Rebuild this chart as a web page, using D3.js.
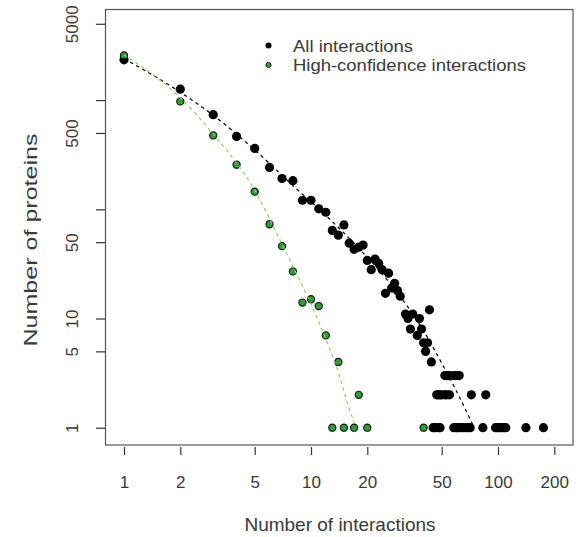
<!DOCTYPE html>
<html><head><meta charset="utf-8">
<script src="https://cdn.jsdelivr.net/npm/d3@7"></script>
<style>body{margin:0;background:#fff}text{font-family:"Liberation Sans",Arial,sans-serif}</style>
</head><body>
<svg id="c" width="585" height="537"></svg>
<script>
// ---- data ----
const xTicks = [1, 2, 5, 10, 20, 50, 100, 200];
const yTicks = [1, 5, 10, 50, 100, 500, 1000, 5000];
const yTickLabels = ["1", "5", "10", "50", "", "500", "", "5000"];

const seriesNames = ["All interactions", "High-confidence interactions"];

const allDeg = [1,2,3,4,5,6,7,8,9,10,11,12,13,14,15,16,17,18,19,20,21,22,23,24,25,26,27,28,29,30,
  32,33,34,35,37,38,39,40,41,42,43,44,
  52,53,54,55,58,59,60,62,
  47,48,49,50,52,53,55,72,86,
  45,46,48,49,58,60,61,63,65,67,69,71,83,97,99,101,104,107,110,141,175];
const allCnt = [2340,1260,735,465,361,242,191,183,121,121,101,94,64,58,72,49,43,45,47,34,28,35,32,28,17,26,19,21,18,16,
  11,10,8,11,7,10,8,6,5,6,12,4,
  3,3,3,3,3,3,3,3,
  2,2,2,2,2,2,2,2,2,
  1,1,1,1,1,1,1,1,1,1,1,1,1,1,1,1,1,1,1,1,1];

const hcDeg = [1,2,3,4,5,6,7,8,9,10,11,12,14,18,13,15,17,20,40];
const hcCnt = [2560,973,475,256,145,73,46,27,14,15,13,7,4,2,1,1,1,1,1];

// fitted trend lines
const allFitX = [1,2,3,5,8,12,18,25,32,40,50,60,73];
const allFitY = [2400,1180,726,350,165,88,44,23.6,13.7,7.7,3.9,2.16,1.08];
const hcFitX = [1,2,3,4,5,6,7,8,10,12,14,16,17.1];
const hcFitY = [2600,1050,490,265,150,82,48,30,13.5,6.5,3.2,1.5,1.1];

// ---- drawing ----
const svg = d3.select("#c");
const x = d3.scaleLog().domain([1, 100]).range([124, 498]);
const y = d3.scaleLog().domain([1, 1000]).range([427.7, 100.1]);
const box = {l: 105.5, t: 9.5, r: 573, b: 445};
const textCol = "#3a3a3a";

svg.append("rect").attr("x", box.l).attr("y", box.t)
  .attr("width", box.r - box.l).attr("height", box.b - box.t)
  .attr("fill", "none").attr("stroke", "#555").attr("stroke-width", 1.2);

// x axis
const gx = svg.append("g").attr("transform", "translate(0,447)")
  .call(d3.axisBottom(x).tickValues(xTicks).tickFormat(d3.format("d")).tickSize(8).tickPadding(21));
gx.select(".domain").remove();
gx.selectAll("line").attr("stroke", "#333").attr("stroke-width", 1.2);
gx.selectAll("text").attr("fill", textCol).style("font-size", "17px");

// y axis
const gy = svg.append("g").attr("transform", "translate(105,0)")
  .call(d3.axisLeft(y).tickValues(yTicks).tickFormat((d, i) => yTickLabels[i]).tickSize(9));
gy.select(".domain").remove();
gy.selectAll("line").attr("stroke", "#333").attr("stroke-width", 1.2);
gy.selectAll("text").attr("fill", textCol).style("font-size", "17px")
  .attr("transform", "rotate(-90)").attr("x", 0).attr("y", -27).attr("dy", 0)
  .attr("text-anchor", "middle");

// axis titles
svg.append("text").attr("x", 340).attr("y", 530.5).attr("text-anchor", "middle")
  .attr("fill", textCol).style("font-size", "19px").text("Number of interactions");
svg.append("text").attr("transform", "translate(37,240) rotate(-90) scale(1.32,1)").attr("text-anchor", "middle")
  .attr("fill", textCol).style("font-size", "19px").text("Number of proteins");

// points
svg.append("g").selectAll("circle").data(allDeg.map((d, i) => [d, allCnt[i]])).join("circle")
  .attr("cx", d => x(d[0])).attr("cy", d => y(d[1])).attr("r", 4.6).attr("fill", "#000");
svg.append("g").selectAll("circle").data(hcDeg.map((d, i) => [d, hcCnt[i]])).join("circle")
  .attr("cx", d => x(d[0])).attr("cy", d => y(d[1])).attr("r", 3.6)
  .attr("fill", "#2e9e35").attr("stroke", "#111").attr("stroke-width", 1.1);

// fit lines
const line = d3.line().x(d => x(d[0])).y(d => y(d[1])).curve(d3.curveMonotoneX);
svg.append("path").datum(allFitX.map((d, i) => [d, allFitY[i]])).attr("d", line)
  .attr("fill", "none").attr("stroke", "#000").attr("stroke-width", 1.2).attr("stroke-dasharray", "3.5,3.5");
svg.append("path").datum(hcFitX.map((d, i) => [d, hcFitY[i]])).attr("d", line)
  .attr("fill", "none").attr("stroke", "#8fd160").attr("stroke-width", 1.2).attr("stroke-dasharray", "3.5,3.5");

// legend
const legY = [45.5, 65];
const leg = svg.append("g");
leg.append("circle").attr("cx", 268.5).attr("cy", legY[0]).attr("r", 3).attr("fill", "#000");
leg.append("circle").attr("cx", 268.5).attr("cy", legY[1]).attr("r", 2.6)
  .attr("fill", "#2e9e35").attr("stroke", "#111").attr("stroke-width", 0.9);
leg.selectAll("text.l").data(seriesNames).join("text").attr("class", "l")
  .attr("transform", (d, i) => `translate(293,${legY[i] + 6}) scale(1.1,1)`)
  .attr("fill", textCol).style("font-size", "16.8px").text(d => d);
</script></body></html>
